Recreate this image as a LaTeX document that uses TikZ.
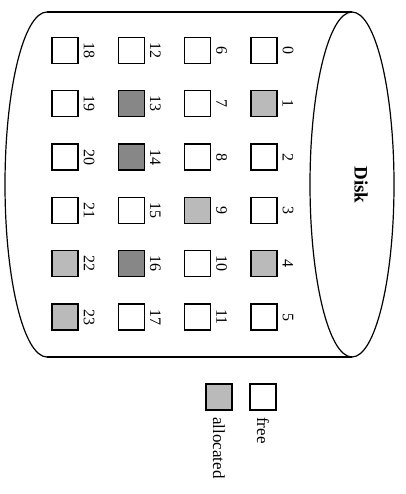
\documentclass[tikz,border=0pt]{standalone}
\usepackage{fontspec}
\setmainfont{Liberation Serif}
\begin{document}
\begin{tikzpicture}[x=1pt,y=-1pt,
  blk/.style={draw=black,line width=1.3pt,minimum size=26pt,inner sep=0pt},
  lite/.style={blk,fill=black!27},
  dark/.style={blk,fill=black!47},
  num/.style={rotate=-90,font=\fontsize{16}{16}\selectfont,inner sep=0pt},
  leg/.style={rotate=-90,anchor=west,font=\fontsize{17}{17}\selectfont,inner sep=0pt},
  cyl/.style={line width=1.2pt}]
\useasboundingbox (0,0) rectangle (405,494);
% cylinder
\draw[cyl] (47,12) -- (352,12);
\draw[cyl] (47,357) -- (352,357);
\draw[cyl] (47,12) arc[start angle=-90,end angle=-270,x radius=42,y radius=172.5];
\draw[cyl] (352,184.5) ellipse[x radius=42,y radius=172.5];
\node[rotate=-90,font=\bfseries\fontsize{19}{19}\selectfont] (disk) at (361,185) {Disk};
% blocks
\foreach \n in {0,...,23}{
  \pgfmathtruncatemacro{\c}{int(\n/6)}
  \pgfmathtruncatemacro{\r}{mod(\n,6)}
  \pgfmathsetmacro{\xx}{264-\c*66.3}
  \pgfmathsetmacro{\yy}{50.5+\r*53.3}
  \def\sty{blk}
  \ifnum\n=1 \def\sty{lite}\fi
  \ifnum\n=4 \def\sty{lite}\fi
  \ifnum\n=9 \def\sty{lite}\fi
  \ifnum\n=22 \def\sty{lite}\fi
  \ifnum\n=23 \def\sty{lite}\fi
  \ifnum\n=13 \def\sty{dark}\fi
  \ifnum\n=14 \def\sty{dark}\fi
  \ifnum\n=16 \def\sty{dark}\fi
  \node[\sty] (b\n) at (\xx,\yy) {};
  \node[num] (l\n) at ([xshift=24pt]b\n.center) {\n};
}
% legend
\node[blk] (free) at (263,397) {};
\node[lite] (alloc) at (219,397) {};
\node[leg] (lfree) at ([yshift=-20pt]free.center) {free};
\node[leg] (lalloc) at ([yshift=-20pt]alloc.center) {allocated};
\end{tikzpicture}
\end{document}
